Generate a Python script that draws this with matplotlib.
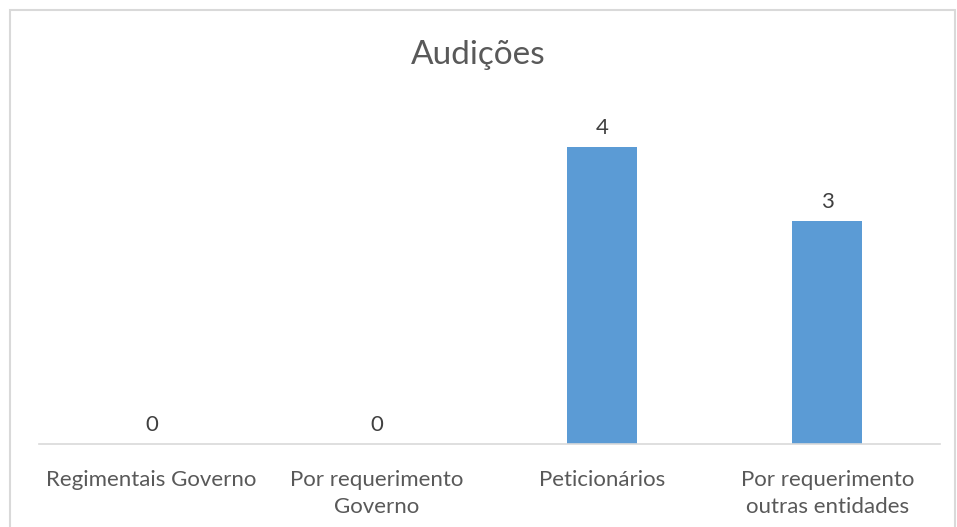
import matplotlib
matplotlib.use("Agg")
import matplotlib.pyplot as plt
from matplotlib.patches import Rectangle

# dados
categorias = ["Regimentais Governo", "Por requerimento\nGoverno",
              "Peticionários", "Por requerimento\noutras entidades"]
valores = [0, 0, 4, 3]

plt.rcParams['font.family'] = ['Lato', 'DejaVu Sans']

fig = plt.figure(figsize=(9.57, 5.27), dpi=100)
ax = fig.add_axes([39/957, 1-444/527, (940-39)/957, (444-73)/527])

x = list(range(len(categorias)))
bars = ax.bar(x, valores, width=0.31, color="#5B9BD5", zorder=2)
for xi, v in zip(x, valores):
    ax.text(xi, v + 0.12, str(v), ha="center", va="bottom",
            fontsize=16, color="#404040")

ax.set_xlim(-0.5, 3.5)
ax.set_ylim(0, 5)
ax.set_xticks(x)
ax.set_xticklabels(categorias, fontsize=16, color="#595959", linespacing=1.4)
ax.tick_params(axis="x", length=0, pad=19)
ax.set_yticks([])
for s in ["top", "right", "left"]:
    ax.spines[s].set_visible(False)
ax.spines["bottom"].set_color("#d9d9d9")
ax.spines["bottom"].set_linewidth(1.2)

fig.text(0.5, 1-55/527, "Audições", ha="center", va="center",
         fontsize=24, color="#595959")

# moldura do gráfico
fig.patches.append(Rectangle((10/957, -0.01), 945/957, 1-10/527+0.01,
                             transform=fig.transFigure, fill=False,
                             edgecolor="#d9d9d9", linewidth=1.5))

fig.savefig("out.png", dpi=100)
